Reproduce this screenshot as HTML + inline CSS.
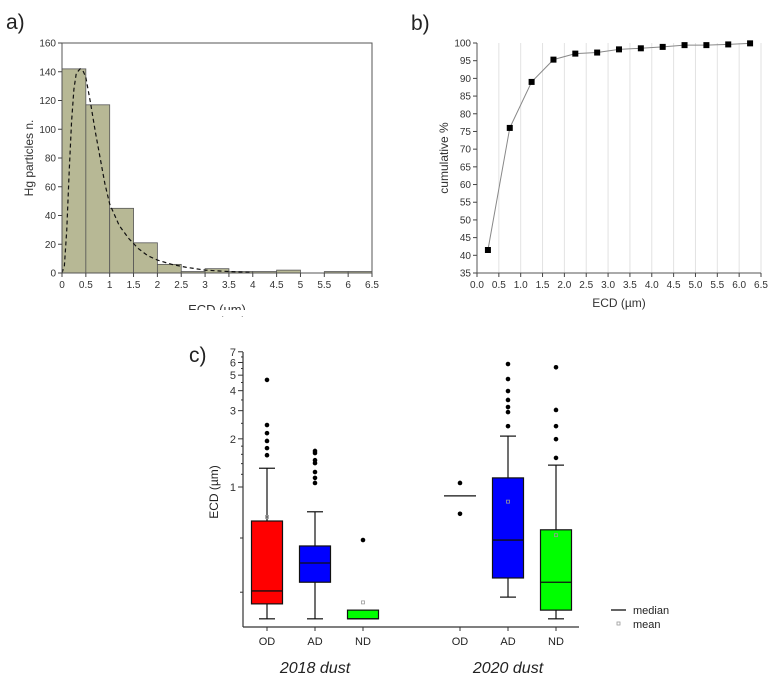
<!DOCTYPE html>
<html><head><meta charset="utf-8"><style>
body{margin:0;background:#fff;width:779px;height:682px;overflow:hidden}
svg{font-family:"Liberation Sans",sans-serif}
</style></head><body>
<svg id="s" width="779" height="682" viewBox="0 0 779 682">
<rect width="779" height="682" fill="#fff"/>
</svg>
<script>
// Panel a data
const histEdges=[0,0.5,1,1.5,2,2.5,3,3.5,4,4.5,5,5.5,6,6.5];
const histCounts=[142,117,45,21,6,1,3,1,1,2,0,1,1];
const fitX=[0,0.05,0.1,0.15,0.2,0.25,0.3,0.38,0.45,0.5,0.6,0.7,0.8,0.9,1,1.2,1.4,1.6,1.8,2,2.3,2.6,3,3.5,4];
const fitY=[0,5,30,70,105,128,139,142,140,136,118,98,80,62,48,33,24,17,12,9,6,4,2,1,0.5];
const aYTicks=[0,20,40,60,80,100,120,140,160];
const aXTicks=["0","0.5","1","1.5","2","2.5","3","3.5","4","4.5","5","5.5","6","6.5"];
// Panel b data
const cumX=[0.25,0.75,1.25,1.75,2.25,2.75,3.25,3.75,4.25,4.75,5.25,5.75,6.25];
const cumY=[41.5,76,89,95.3,97,97.3,98.2,98.5,98.9,99.4,99.4,99.6,99.9];
const bYTicks=[35,40,45,50,55,60,65,70,75,80,85,90,95,100];
const bXTicks=["0.0","0.5","1.0","1.5","2.0","2.5","3.0","3.5","4.0","4.5","5.0","5.5","6.0","6.5"];
// Panel c data
const boxCats=["OD","AD","ND","OD","AD","ND"];
const boxQ1=[0.186,0.254,0.15,null,0.27,0.17];
const boxQ3=[0.613,0.428,0.17,null,1.14,0.54];
const boxMed=[0.224,0.335,0.15,0.88,0.466,0.254];
const boxWhiskLo=[0.15,0.15,null,null,0.205,0.15];
const boxWhiskHi=[1.31,0.70,null,null,2.08,1.37];
const boxMean=[0.65,null,0.19,null,0.81,0.5];
const boxOutliers=[[4.67,2.44,2.17,1.94,1.75,1.58],[1.68,1.63,1.47,1.41,1.24,1.14,1.06],[0.466],[1.06,0.68],[5.87,4.73,3.98,3.5,3.16,2.94,2.4],[5.6,3.03,2.4,1.99,1.52]];
const boxColors=["#ff0000","#0000ff","#00ff00",null,"#0000ff","#00ff00"];
const cYTicks=[1,2,3,4,5,6,7];

const S=document.getElementById('s');const NS="http://www.w3.org/2000/svg";
function mk(t,a,txt){const e=document.createElementNS(NS,t);for(const k in a)e.setAttribute(k,a[k]);if(txt!=null)e.textContent=txt;S.appendChild(e);return e;}

// ---- Panel a
const ax=v=>62+v/6.5*310, ay=v=>273-v/160*230;
let e=mk('text',{x:6,y:29,'font-size':21,fill:'#222'},'a)');

histCounts.forEach((c,i)=>{if(c<=0)return;const r=mk('rect',{x:ax(histEdges[i]),y:ay(c),width:ax(histEdges[i+1])-ax(histEdges[i]),height:ay(0)-ay(c),fill:'#b7b895',stroke:'#555','stroke-width':0.8});
});
e=mk('polyline',{points:fitX.map((x,i)=>ax(x)+','+ay(fitY[i])).join(' '),fill:'none',stroke:'#111','stroke-width':1.2,'stroke-dasharray':'4,3'});

e=mk('rect',{x:62,y:43,width:310,height:230,fill:'none',stroke:'#555','stroke-width':1});

aYTicks.forEach(v=>{mk('line',{x1:58,x2:62,y1:ay(v),y2:ay(v),stroke:'#444'});
e=mk('text',{x:56,y:ay(v)+3.5,'font-size':10,'text-anchor':'end',fill:'#333'},v);});
aXTicks.forEach((t,i)=>{const x=ax(i*0.5);mk('line',{x1:x,x2:x,y1:273,y2:277,stroke:'#444'});
e=mk('text',{x:x,y:288,'font-size':10,'text-anchor':'middle',fill:'#333'},t);});
e=mk('text',{x:0,y:0,'font-size':12,'text-anchor':'middle',fill:'#333',transform:'translate(33,158) rotate(-90)'},'Hg particles n.');

e=mk('text',{x:217,y:314,'font-size':13,'text-anchor':'middle',fill:'#333'},'ECD (um)');

mk('rect',{x:0,y:310,width:390,height:6,fill:'#fff'});

// ---- Panel b
const bx=v=>477+v/6.5*284, by=v=>273-(v-35)/65*230;
e=mk('text',{x:411,y:30,'font-size':21,fill:'#222'},'b)');

bXTicks.forEach((t,i)=>{const x=bx(i*0.5);if(i>0)mk('line',{x1:x,x2:x,y1:43,y2:273,stroke:'#e2e2e2'});});
mk('line',{x1:477,x2:477,y1:43,y2:273,stroke:'#555'});mk('line',{x1:477,x2:761,y1:273,y2:273,stroke:'#555'});
bYTicks.forEach(v=>{mk('line',{x1:473,x2:477,y1:by(v),y2:by(v),stroke:'#444'});
e=mk('text',{x:471,y:by(v)+3.5,'font-size':10,'text-anchor':'end',fill:'#333'},v);});
bXTicks.forEach((t,i)=>{const x=bx(i*0.5);mk('line',{x1:x,x2:x,y1:273,y2:277,stroke:'#444'});
e=mk('text',{x:x,y:288,'font-size':10,'text-anchor':'middle',fill:'#333'},t);});
e=mk('polyline',{points:cumX.map((x,i)=>bx(x)+','+by(cumY[i])).join(' '),fill:'none',stroke:'#888','stroke-width':1});

cumX.forEach((x,i)=>{const r=mk('rect',{x:bx(x)-3,y:by(cumY[i])-3,width:6,height:6,fill:'#000'});});
e=mk('text',{x:0,y:0,'font-size':12,'text-anchor':'middle',fill:'#333',transform:'translate(448,158) rotate(-90)'},'cumulative %');

e=mk('text',{x:619,y:307,'font-size':12,'text-anchor':'middle',fill:'#333'},'ECD (µm)');


// ---- Panel c
const cy=v=>487-160*Math.log10(v);
const catX=[267,315,363,460,508,556];
e=mk('text',{x:189,y:362,'font-size':21,fill:'#222'},'c)');

mk('line',{x1:243,x2:243,y1:352,y2:627,stroke:'#333','stroke-width':1.2});
mk('line',{x1:243,x2:579,y1:627,y2:627,stroke:'#333','stroke-width':1.2});
cYTicks.forEach(v=>{mk('line',{x1:238,x2:243,y1:cy(v),y2:cy(v),stroke:'#333'});
e=mk('text',{x:236,y:cy(v)+4,'font-size':11,'text-anchor':'end',fill:'#333'},v);});
[0.48,0.22].forEach(v=>mk('line',{x1:240,x2:243,y1:cy(v),y2:cy(v),stroke:'#333'}));
[1.2,1.4,1.6,1.8,2.5,3.5,4.5,5.5,6.5].forEach(v=>mk('line',{x1:241,x2:243,y1:cy(v),y2:cy(v),stroke:'#333'}));
boxCats.forEach((c,i)=>{const x=catX[i],w=31;
 if(boxWhiskHi[i]!=null){mk('line',{x1:x,x2:x,y1:cy(boxWhiskHi[i]),y2:cy(boxWhiskLo[i]),stroke:'#111','stroke-width':1.2});
  [boxWhiskHi[i],boxWhiskLo[i]].forEach(v=>mk('line',{x1:x-8,x2:x+8,y1:cy(v),y2:cy(v),stroke:'#111','stroke-width':1.2}));}
 if(boxQ1[i]!=null){const r=mk('rect',{x:x-w/2,y:cy(boxQ3[i]),width:w,height:Math.max(cy(boxQ1[i])-cy(boxQ3[i]),1),fill:boxColors[i],stroke:'#111','stroke-width':1.2});
  }
 const mw=boxQ1[i]==null?16:w/2;
 e=mk('line',{x1:x-mw,x2:x+mw,y1:cy(boxMed[i]),y2:cy(boxMed[i]),stroke:'#111','stroke-width':1.3});
 
 if(boxMean[i]!=null){e=mk('rect',{x:x-1.5,y:cy(boxMean[i])-1.5,width:3,height:3,fill:'none',stroke:'#999','stroke-width':0.8});}
 boxOutliers[i].forEach(v=>{const o=mk('circle',{cx:x,cy:cy(v),r:2.3,fill:'#000'});});
 mk('line',{x1:x,x2:x,y1:627,y2:631,stroke:'#333'});
 e=mk('text',{x:x,y:645,'font-size':11,'text-anchor':'middle',fill:'#222'},c);
});
e=mk('text',{x:0,y:0,'font-size':12,'text-anchor':'middle',fill:'#222',transform:'translate(218,492) rotate(-90)'},'ECD (µm)');

e=mk('text',{x:315,y:673,'font-size':16,'font-style':'italic','text-anchor':'middle',fill:'#222'},'2018 dust');

e=mk('text',{x:508,y:673,'font-size':16,'font-style':'italic','text-anchor':'middle',fill:'#222'},'2020 dust');

mk('line',{x1:611,x2:626,y1:610,y2:610,stroke:'#111','stroke-width':1.3});
e=mk('text',{x:633,y:614,'font-size':11,fill:'#222'},'median');
mk('rect',{x:617,y:622,width:3,height:3,fill:'none',stroke:'#999','stroke-width':0.8});
e=mk('text',{x:633,y:628,'font-size':11,fill:'#222'},'mean');
</script>
</body></html>
